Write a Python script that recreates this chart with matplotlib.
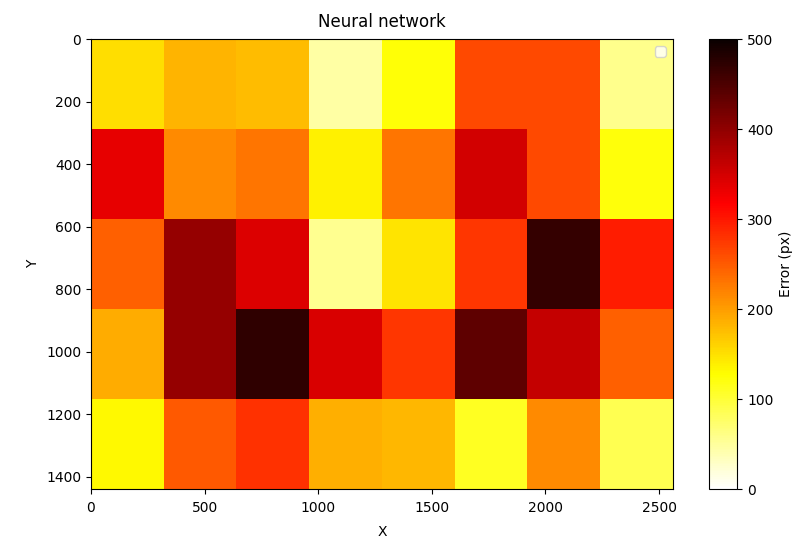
import numpy as np
import matplotlib
matplotlib.use('Agg')
import matplotlib.pyplot as plt

# screen size in px and the grid of mean errors per cell
screen_w = 2560
screen_h = 1440
row0 = [152, 183, 176, 45, 124, 262, 262, 57]
row1 = [335, 214, 229, 138, 230, 350, 262, 122]
row2 = [246, 396, 342, 55, 147, 276, 467, 295]
row3 = [189, 396, 472, 344, 276, 437, 361, 246]
row4 = [132, 250, 280, 187, 181, 110, 214, 87]

err_min = 0
err_max = 500


def draw_heatmap(grid, title):
    fig = plt.figure(figsize=(7.98, 5.44), dpi=100)
    ax = fig.add_axes([0.114, 0.101, 0.729, 0.827])
    im = ax.imshow(grid, cmap='hot_r', vmin=err_min, vmax=err_max,
                   extent=[0, screen_w, screen_h, 0], aspect='auto',
                   interpolation='nearest')
    ax.set_title(title, pad=9)
    ax.set_xlabel('X', labelpad=7)
    ax.set_ylabel('Y')
    ax.tick_params(axis='x', pad=5)
    ax.legend(loc='upper right')

    cax = fig.add_axes([0.888, 0.101, 0.036, 0.827])
    cb = fig.colorbar(im, cax=cax)
    cb.set_label('Error (px)')
    return fig


if __name__ == '__main__':
    grid = np.array([row0, row1, row2, row3, row4])
    fig = draw_heatmap(grid, 'Neural network')
    fig.savefig('out.png', dpi=100)
